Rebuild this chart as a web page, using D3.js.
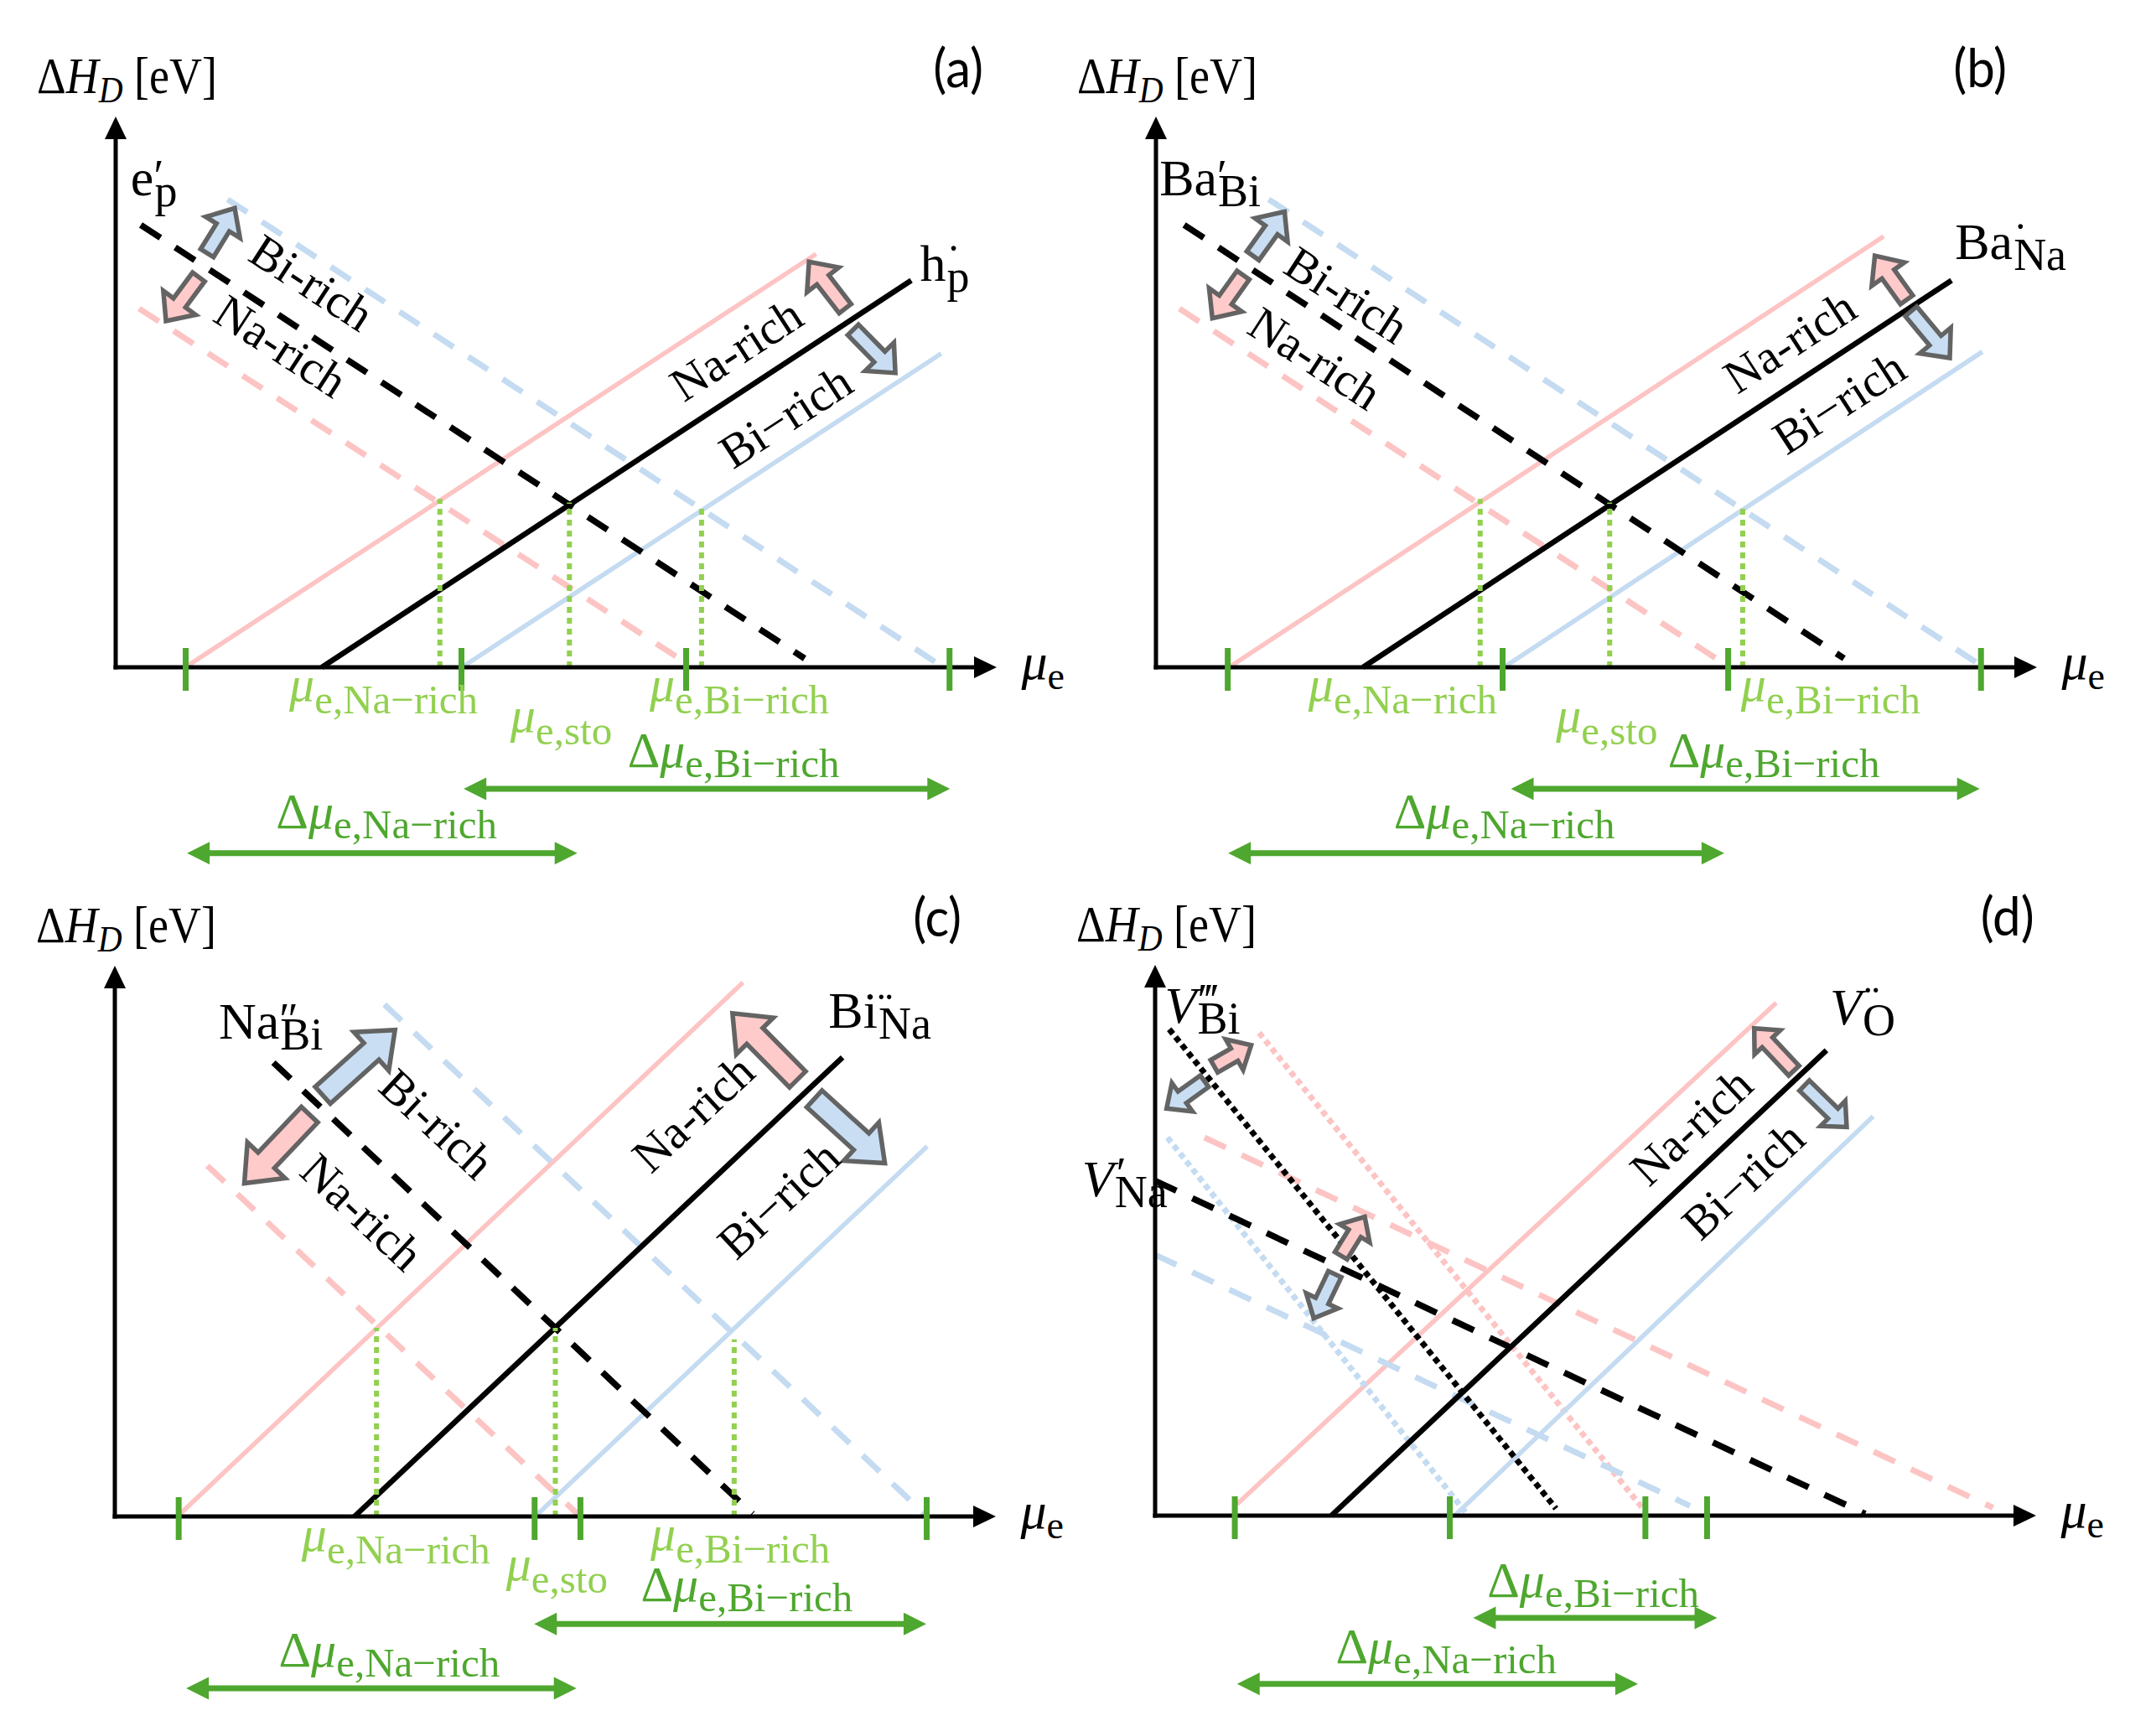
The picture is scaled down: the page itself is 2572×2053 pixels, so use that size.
<!DOCTYPE html>
<html><head><meta charset="utf-8">
<script src="https://cdn.jsdelivr.net/npm/d3@7"></script>
<style>body{margin:0;background:#fff}svg{display:block}</style>
</head><body>
<svg id="chart" width="2572" height="2053"></svg>
<script>
// ---------------- DATA (μe, ΔH in arbitrary chart units) ----------------
const panelIds = ["a", "b", "c", "d"];

// defect formation-energy lines: env = stoichiometric / Na-rich / Bi-rich
const linesA = [
  {def:"hp",  env:"Na",  mu:[7.9, 79.5],  dH:[0, 46.9]},
  {def:"hp",  env:"sto", mu:[23.4, 90.3], dH:[0, 43.9]},
  {def:"hp",  env:"Bi",  mu:[39.3, 93.7], dH:[0, 35.6]},
  {def:"ep",  env:"sto", mu:[2.85, 78.2], dH:[50.2, 1.0]},
  {def:"ep",  env:"Bi",  mu:[12.7, 93.8], dH:[53.1, 0.1]},
  {def:"ep",  env:"Na",  mu:[2.66, 64.9], dH:[40.7, 0.4]}
];
const linesB = [
  {def:"BaNa", env:"Na",  mu:[8.3, 82.6],  dH:[0, 48.9]},
  {def:"BaNa", env:"sto", mu:[23.5, 90.3], dH:[0, 43.9]},
  {def:"BaNa", env:"Bi",  mu:[39.5, 93.8], dH:[0, 35.8]},
  {def:"BaBi", env:"sto", mu:[3.2, 78.1],  dH:[50.2, 1.0]},
  {def:"BaBi", env:"Bi",  mu:[12.8, 93.8], dH:[53.1, 0.1]},
  {def:"BaBi", env:"Na",  mu:[2.66, 64.5], dH:[40.7, 0.4]}
];
const linesC = [
  {def:"BiNa", env:"Na",  mu:[7.1, 71.3],  dH:[0, 60.6]},
  {def:"BiNa", env:"sto", mu:[27.2, 82.6], dH:[0, 52.1]},
  {def:"BiNa", env:"Bi",  mu:[47.7, 92.2], dH:[0, 42.0]},
  {def:"NaBi", env:"sto", mu:[18.0, 72.4], dH:[51.5, 0.3]},
  {def:"NaBi", env:"Bi",  mu:[30.6, 91.9], dH:[58.1, 0.3]},
  {def:"NaBi", env:"Na",  mu:[10.5, 52.5], dH:[39.8, 0.3]}
];
const linesD = [
  {def:"VO",  env:"Na",  mu:[9.3, 70.5],  dH:[1.3, 58.2]},
  {def:"VO",  env:"sto", mu:[20.0, 76.2], dH:[0, 52.8]},
  {def:"VO",  env:"Bi",  mu:[34.0, 81.5], dH:[0, 45.3]},
  {def:"VNa", env:"Na",  mu:[5.6, 95.1],  dH:[42.9, 0.9]},
  {def:"VNa", env:"Bi",  mu:[0, 60.7],    dH:[29.6, 1.1]},
  {def:"VNa", env:"sto", mu:[0, 80.6],    dH:[38.0, 0.2]},
  {def:"VBi", env:"Na",  mu:[11.8, 55.6], dH:[54.8, 0.5]},
  {def:"VBi", env:"Bi",  mu:[1.4, 35.3],  dH:[42.9, 0.3]},
  {def:"VBi", env:"sto", mu:[1.6, 45.5],  dH:[55.2, 0.8]}
];

// green tick marks on the μe axis
const ticksA = [7.9, 39.2, 64.7, 94.6];
const ticksB = [8.1, 39.3, 64.9, 93.6];
const ticksC = [7.2, 47.6, 52.8, 92.1];
const ticksD = [9.0, 33.4, 55.6, 62.6];

// dotted guides at the crossing points [μe, ΔH]
const guidesA = [[36.8, 19.1], [51.5, 18.7], [66.5, 18.4]];
const guidesB = [[36.8, 19.1], [51.5, 18.7], [66.6, 18.4]];
const guidesC = [[29.7, 21.4], [50.0, 21.4], [70.3, 20.1]];
const guidesD = [];

// Δμ ranges [start, end]
const rangesA = [{name:"Bi", span:[39.5, 94.7]}, {name:"Na", span:[8.1, 52.4]}];
const rangesB = [{name:"Bi", span:[40.3, 93.5]}, {name:"Na", span:[8.2, 64.5]}];
const rangesC = [{name:"Bi", span:[47.6, 92.1]}, {name:"Na", span:[8.1, 52.4]}];
const rangesD = [{name:"Bi", span:[36.1, 63.8]}, {name:"Na", span:[9.3, 54.8]}];

// shift arrows (from, to) in chart units
const shiftsA = [
  {env:"Bi", from:[10.37, 47.0], to:[13.51, 52.1]},
  {env:"Na", from:[9.42, 44.3],  to:[5.71, 39.3]},
  {env:"Na", from:[82.8, 40.7],  to:[78.7, 46.0]},
  {env:"Bi", from:[83.7, 38.3],  to:[88.5, 33.4]}
];
const shiftsB = [
  {env:"Bi", from:[11.0, 46.7], to:[14.6, 51.7]},
  {env:"Na", from:[9.9, 44.5],  to:[6.4, 39.6]},
  {env:"Na", from:[85.2, 41.7], to:[81.6, 46.7]},
  {env:"Bi", from:[85.7, 40.4], to:[90.1, 35.1]}
];
const shiftsC = [
  {env:"Bi", from:[23.6, 47.8], to:[31.8, 55.2]},
  {env:"Na", from:[22.1, 45.6], to:[14.7, 37.8]},
  {env:"Na", from:[77.5, 49.6], to:[70.1, 57.1]},
  {env:"Bi", from:[79.4, 47.4], to:[87.4, 40.1]}
];
const shiftsD = [
  {env:"Na", from:[6.7, 51.0],  to:[10.9, 53.4]},
  {env:"Bi", from:[5.6, 49.3],  to:[1.3, 46.2]},
  {env:"Na", from:[21.1, 29.5], to:[23.8, 33.9]},
  {env:"Bi", from:[20.4, 27.4], to:[18.0, 22.4]},
  {env:"Na", from:[72.5, 50.5], to:[68.0, 55.3]},
  {env:"Bi", from:[73.7, 48.8], to:[78.5, 44.1]}
];

// defect names
const namesA = [{main:"e", sup:"′", sub:"p", it:false}, {main:"h", sup:"˙", sub:"p", it:false}];
const namesB = [{main:"Ba", sup:"′", sub:"Bi", it:false}, {main:"Ba", sup:"˙", sub:"Na", it:false}];
const namesC = [{main:"Na", sup:"″", sub:"Bi", it:false}, {main:"Bi", sup:"¨", sub:"Na", it:false}];
const namesD = [{main:"V", sup:"‴", sub:"Bi", it:true}, {main:"V", sup:"′", sub:"Na", it:true}, {main:"V", sup:"¨", sub:"O", it:true}];

// region labels along the lines
const regionA = ["Bi-rich", "Na-rich", "Na-rich", "Bi−rich"];
const regionB = ["Bi-rich", "Na-rich", "Na-rich", "Bi−rich"];
const regionC = ["Bi-rich", "Na-rich", "Na-rich", "Bi−rich"];
const regionD = ["Na-rich", "Bi−rich"];

const muLabelsABC = [{delta:false, sub:"e,Na−rich"}, {delta:false, sub:"e,Bi−rich"}, {delta:false, sub:"e,sto"},
                     {delta:true, sub:"e,Bi−rich"}, {delta:true, sub:"e,Na−rich"}];
const muLabelsD = [{delta:true, sub:"e,Bi−rich"}, {delta:true, sub:"e,Na−rich"}];

// ---------------- LAYOUT ----------------
const layout = {
  a:{ox:138, oy:796, lines:linesA, ticks:ticksA, guides:guidesA, ranges:rangesA, shifts:shiftsA, names:namesA, region:regionA, mus:muLabelsABC,
     rangeY:{Bi:-13.8, Na:-21.1}, arrowSize:[18, 48, 27],
     namePos:[[1.7, 53.6], [91.3, 43.9]],
     regionPos:[[22.3, 43.7, 33], [18.8, 36.5, 33], [70.4, 36.1, -33], [76.0, 28.5, -33]],
     muPos:[[19.7, -3.8], [60.6, -3.8], [44.8, -7.3], [58.1, -11.3], [18.2, -18.3]],
     tagX:92.8},
  b:{ox:1379, oy:796, lines:linesB, ticks:ticksB, guides:guidesB, ranges:rangesB, shifts:shiftsB, names:namesB, region:regionB, mus:muLabelsABC,
     rangeY:{Bi:-13.8, Na:-21.1}, arrowSize:[18, 48, 27],
     namePos:[[0.4, 53.6], [90.7, 46.3]],
     regionPos:[[21.7, 42.3, 33], [18.1, 35.1, 33], [71.9, 37.0, -33], [77.5, 30.1, -33]],
     muPos:[[17.3, -3.8], [66.4, -3.8], [45.4, -7.3], [58.1, -11.3], [27.0, -18.3]],
     tagX:90.5},
  c:{ox:137, oy:1809, lines:linesC, ticks:ticksC, guides:guidesC, ranges:rangesC, shifts:shiftsC, names:namesC, region:regionC, mus:muLabelsABC,
     rangeY:{Bi:-12.2, Na:-19.5}, arrowSize:[27, 62, 38],
     namePos:[[11.8, 54.2], [81.0, 55.5]],
     regionPos:[[36.6, 44.6, 43], [28.1, 34.6, 43], [65.6, 45.8, -43], [75.3, 36.0, -43]],
     muPos:[[21.2, -3.9], [60.8, -3.8], [44.4, -7.2], [59.7, -9.6], [18.6, -17.0]],
     tagX:90.6},
  d:{ox:1378, oy:1808, lines:linesD, ticks:ticksD, guides:guidesD, ranges:rangesD, shifts:shiftsD, names:namesD, region:regionD, mus:muLabelsD,
     rangeY:{Bi:-11.6, Na:-19.1}, arrowSize:[17, 42, 23],
     namePos:[[1.1, 55.9], [-8.3, 36.2], [76.6, 55.7]],
     regionPos:[[60.8, 44.2, -43], [66.7, 38.1, -43]],
     muPos:[[37.7, -9.2], [20.5, -16.7]],
     tagX:93.7}
};

const defStyle = {hp:"solid", ep:"dashed", BaNa:"solid", BaBi:"dashed", BiNa:"solid", NaBi:"dashed", VO:"solid", VNa:"dashed", VBi:"dotted"};
const envColor = {sto:"#000000", Na:"#fdc4c4", Bi:"#c4dbf1"};
const fillColor = {Na:"#ffcaca", Bi:"#c9def2"};
const GREEN_L = "#92d050", GREEN_D = "#4ea72e";
const SERIF = "'Liberation Serif','Times New Roman',serif";

const svg = d3.select("#chart");
svg.append("rect").attr("width", 2572).attr("height", 2053).attr("fill", "#fff");

function blockArrow(T, P, sw, hw, hl) {
  const dx = P[0]-T[0], dy = P[1]-T[1], L = Math.hypot(dx, dy);
  const ux = dx/L, uy = dy/L, nx = -uy, ny = ux;
  const N = [P[0]-ux*hl, P[1]-uy*hl];
  const pts = [
    [T[0]+nx*sw/2, T[1]+ny*sw/2], [N[0]+nx*sw/2, N[1]+ny*sw/2], [N[0]+nx*hw/2, N[1]+ny*hw/2],
    P, [N[0]-nx*hw/2, N[1]-ny*hw/2], [N[0]-nx*sw/2, N[1]-ny*sw/2], [T[0]-nx*sw/2, T[1]-ny*sw/2]];
  return "M" + pts.map(p => p[0].toFixed(1)+","+p[1].toFixed(1)).join("L") + "Z";
}

function drawPanel(id) {
  const P = layout[id];
  const x = d3.scaleLinear().domain([0, 100]).range([P.ox, P.ox + 1051]);
  const y = d3.scaleLinear().domain([0, 62.5]).range([P.oy, P.oy - 657]);
  const g = svg.append("g").attr("class", "panel-" + id);

  // lines: coloured first, black last
  const order = {Na:0, Bi:1, sto:2};
  const sorted = P.lines.slice().sort((a, b) => order[a.env] - order[b.env]);
  g.selectAll("line.def").data(sorted).join("line").attr("class", "def")
    .attr("x1", d => x(d.mu[0])).attr("y1", d => y(d.dH[0]))
    .attr("x2", d => x(d.mu[1])).attr("y2", d => y(d.dH[1]))
    .attr("stroke", d => envColor[d.env])
    .attr("stroke-width", d => {
      const s = defStyle[d.def];
      if (s === "dotted") return 7;
      if (d.env === "sto") return s === "dashed" ? 7.5 : 6.5;
      return s === "dashed" ? 7 : 5.5;
    })
    .attr("stroke-dasharray", d => {
      const s = defStyle[d.def];
      return s === "dashed" ? "28 21" : s === "dotted" ? "7 5" : null;
    });

  // dotted guides
  g.selectAll("line.guide").data(P.guides).join("line").attr("class", "guide")
    .attr("x1", d => x(d[0])).attr("x2", d => x(d[0]))
    .attr("y1", y(0)).attr("y2", d => y(d[1]))
    .attr("stroke", GREEN_L).attr("stroke-width", 6).attr("stroke-dasharray", "7 6");

  // axes
  const ax = g.append("g").attr("fill", "#000").attr("stroke", "#000");
  ax.append("line").attr("x1", x(0) - 2.5).attr("x2", x(100) - 22).attr("y1", y(0)).attr("y2", y(0)).attr("stroke-width", 5);
  ax.append("line").attr("x1", x(0)).attr("x2", x(0)).attr("y1", y(0) + 2.5).attr("y2", y(62.5) + 22).attr("stroke-width", 5);
  ax.append("path").attr("stroke", "none")
    .attr("d", `M${x(100)},${y(0)}L${x(100)-27},${y(0)-13}L${x(100)-27},${y(0)+13}Z`);
  ax.append("path").attr("stroke", "none")
    .attr("d", `M${x(0)},${y(62.5)}L${x(0)-13},${y(62.5)+27}L${x(0)+13},${y(62.5)+27}Z`);

  // green ticks via d3 axis
  const tickAxis = d3.axisBottom(x).tickValues(P.ticks).tickSize(51).tickFormat("");
  const ta = g.append("g").attr("transform", `translate(0,${y(0) - 23})`).call(tickAxis);
  ta.select(".domain").remove();
  ta.selectAll(".tick line").attr("stroke", GREEN_D).attr("stroke-width", 7);

  // Δμ double arrows
  P.ranges.forEach(r => {
    const x1 = x(r.span[0]), x2 = x(r.span[1]), yy = y(P.rangeY[r.name]);
    const hl = 27, hh = 13.5;
    g.append("line").attr("x1", x1 + hl - 2).attr("x2", x2 - hl + 2).attr("y1", yy).attr("y2", yy)
      .attr("stroke", GREEN_D).attr("stroke-width", 7);
    g.append("path").attr("fill", GREEN_D)
      .attr("d", `M${x1},${yy}L${x1+hl},${yy-hh}L${x1+hl},${yy+hh}Z M${x2},${yy}L${x2-hl},${yy-hh}L${x2-hl},${yy+hh}Z`);
  });

  // shift arrows
  const [sw, hw, hl] = P.arrowSize;
  g.selectAll("path.shift").data(P.shifts).join("path").attr("class", "shift")
    .attr("d", d => blockArrow([x(d.from[0]), y(d.from[1])], [x(d.to[0]), y(d.to[1])], sw, hw, hl))
    .attr("fill", d => fillColor[d.env]).attr("stroke", "#5c5c5c").attr("stroke-opacity", 0.95)
    .attr("stroke-width", 5.5).attr("stroke-linejoin", "miter");

  // y axis title (slightly taller glyphs as in the reference)
  const yt = g.append("g").attr("transform", `translate(${x(-8.95)},${y(65.2)}) scale(1,1.12)`)
    .append("text").attr("font-family", SERIF).attr("font-size", 54).attr("fill", "#000");
  yt.append("tspan").text("Δ");
  yt.append("tspan").attr("font-style", "italic").text("H");
  yt.append("tspan").attr("font-style", "italic").attr("font-size", 40).attr("dy", 10).text("D");
  yt.append("tspan").attr("dy", -10).text("\u00a0[eV]");

  // panel tag
  g.append("g").attr("transform", `translate(${x(P.tagX)},${y(65.8)}) scale(1,1.08)`)
    .append("text").attr("font-family", "Lato, 'Open Sans', sans-serif")
    .attr("font-size", 60).attr("fill", "#000").text(`(${id})`);

  // x axis title
  const xt = g.append("text").attr("x", x(102.8)).attr("y", y(-1.3)).attr("font-family", SERIF).attr("font-size", 62).attr("fill", "#000");
  xt.append("tspan").attr("font-style", "italic").text("μ");
  xt.append("tspan").attr("font-size", 46).attr("dy", 12).text("e");

  // defect names: main symbol + one run holding charge (raised) and site (lowered), glyph-positioned
  P.names.forEach((n, i) => {
    const [dx, dy] = P.namePos[i];
    const px = x(dx), py = y(dy);
    const t = g.append("text").attr("x", px).attr("y", py).attr("font-family", SERIF).attr("font-size", 62).attr("fill", "#000");
    t.append("tspan").attr("font-style", n.it ? "italic" : "normal").text(n.main);
    const w = t.node().getComputedTextLength();
    const up = n.it ? 9 : 5;
    const xs = px + w + (n.it ? 3 : 0);
    const xb = px + w + 1;
    t.append("tspan").attr("font-size", 54)
      .attr("x", `${xs} ${xb}`).attr("y", `${py - up} ${py + 13}`)
      .text(n.sup + n.sub);
  });

  // region labels
  P.region.forEach((txt, i) => {
    const [dx, dy, ang] = P.regionPos[i];
    g.append("text").attr("transform", `translate(${x(dx)},${y(dy)}) rotate(${ang})`)
      .attr("text-anchor", "middle").attr("dy", "0.35em").attr("font-family", SERIF).attr("font-size", 57)
      .attr("fill", "#000").text(txt);
  });

  // μ labels
  P.mus.forEach((m, i) => {
    const [dx, dy] = P.muPos[i];
    const col = m.delta ? GREEN_D : GREEN_L;
    const t = g.append("text").attr("x", x(dx)).attr("y", y(dy)).attr("font-family", SERIF).attr("fill", col).attr("font-size", 60);
    if (m.delta) t.append("tspan").text("Δ");
    t.append("tspan").attr("font-style", "italic").text("μ");
    t.append("tspan").attr("font-size", 49).attr("dy", m.delta ? 12 : 15).text(m.sub);
  });
}

panelIds.forEach(drawPanel);
</script>
</body></html>
